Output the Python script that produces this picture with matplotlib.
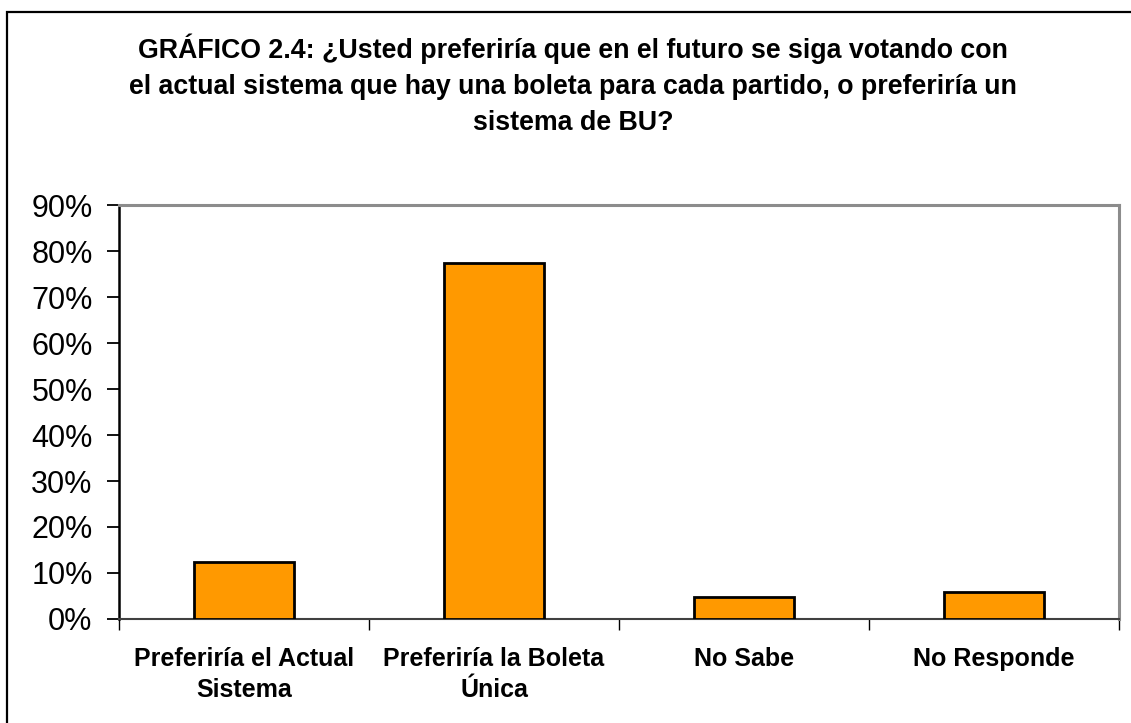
import matplotlib
matplotlib.use('Agg')
import matplotlib.pyplot as plt
from matplotlib.patches import Rectangle

plt.rcParams['font.family'] = ['Liberation Sans', 'DejaVu Sans']

# data
categories = ['Preferiría el Actual\nSistema', 'Preferiría la Boleta\nÚnica',
              'No Sabe', 'No Responde']
values = [12.4, 77.4, 4.8, 5.9]
ytick_vals = [0, 10, 20, 30, 40, 50, 60, 70, 80, 90]
title = ('GRÁFICO 2.4: ¿Usted preferiría que en el futuro se siga votando con\n'
         'el actual sistema que hay una boleta para cada partido, o preferiría un\n'
         'sistema de BU?')

fig = plt.figure(figsize=(11.31, 7.23), dpi=100)

# outer chart frame (left/top only visible, rest clipped)
fig.patches.append(Rectangle((7 / 1131, -0.1), 1.2, (723 - 12) / 723 + 0.1,
                             transform=fig.transFigure, fill=False,
                             edgecolor='black', linewidth=1.6))

ax = fig.add_axes([119 / 1131, 104 / 723, 1000 / 1131, 414 / 723])
x = range(len(categories))
ax.bar(x, values, width=0.4, color='#FF9900', edgecolor='black', linewidth=2, zorder=3)

ax.set_xlim(-0.5, len(categories) - 0.5)
ax.set_ylim(0, 90)
ax.set_yticks(ytick_vals)
ax.set_yticklabels(['%d%%' % v for v in ytick_vals], fontsize=22)
ax.tick_params(axis='y', direction='out', length=9, width=1.3, pad=10, color='black')

ax.set_xticks([i + 0.5 for i in range(-1, len(categories))])
ax.set_xticklabels([])
ax.set_xticks(list(x), minor=True)
ax.set_xticklabels(categories, minor=True, fontsize=18, fontweight='bold',
                   linespacing=1.4)
ax.tick_params(axis='x', which='major', direction='out', length=8, width=1.0, color='black')
ax.tick_params(axis='x', which='minor', length=0, pad=20)

ax.spines['left'].set_color('black')
ax.spines['left'].set_linewidth(1.8)
ax.spines['bottom'].set_color('#404040')
ax.spines['bottom'].set_linewidth(1.5)
for s in ['top', 'right']:
    ax.spines[s].set_color('#8c8c8c')
    ax.spines[s].set_linewidth(2.2)

fig.text(0.507, 1 - 33 / 723, title, ha='center', va='top', fontsize=19.3,
         fontweight='bold', linespacing=1.5)

fig.savefig('out.png', dpi=100)
